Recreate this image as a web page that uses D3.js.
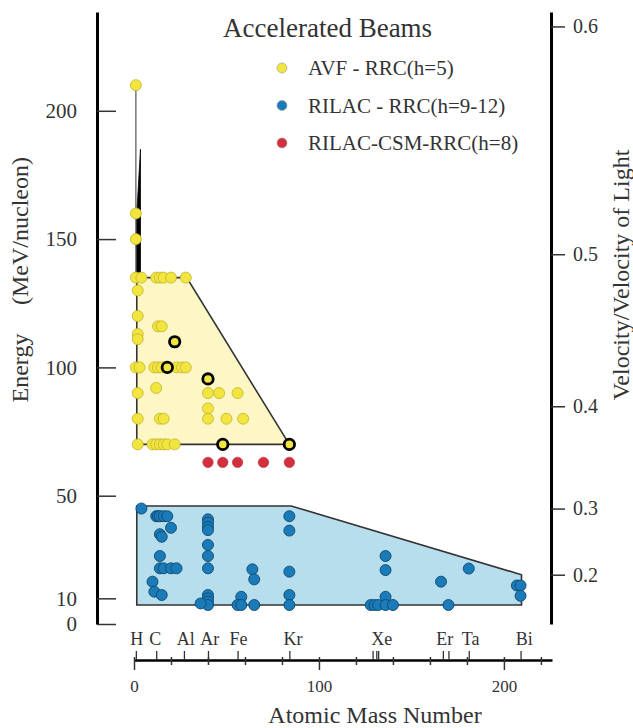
<!DOCTYPE html>
<html>
<head>
<meta charset="utf-8">
<script src="https://cdn.jsdelivr.net/npm/d3@7"></script>
<style>
  body { margin: 0; background: #fff; }
  svg { display: block; font-family: "Liberation Serif", "Times New Roman", serif; }
  .axis text { fill: #333; }
</style>
</head>
<body>
<div id="chart"></div>
<script>
// --- data (mass number A, energy MeV/nucleon) ---
const avfPoints = [
  [1, 210], [1, 160], [1, 150],
  [1, 135], [4, 135], [12, 135], [14, 135], [16, 135], [20, 135], [28, 135],
  [2, 130], [2, 120], [13, 116], [15, 116], [2, 113], [2, 111],
  [1, 100], [3, 100], [11, 100], [13, 100], [15, 100], [23, 100], [26, 100], [28, 100],
  [12, 92], [2, 90], [40, 90], [46, 90], [56, 90], [40, 84],
  [2, 80], [14, 80], [16, 80], [40, 80], [50, 80], [59, 80],
  [2, 70], [10, 70], [12, 70], [14, 70], [16, 70], [18, 70], [22, 70]
];
const avfHighlighted = [[22, 110], [18, 100], [40, 95.5], [48, 70], [84, 70]];
const rilacPoints = [
  [4, 45], [12, 42], [13, 42], [14, 42], [16, 42], [18, 42], [20, 37.5],
  [14, 35], [15, 34], [14, 26.5], [14, 21.7], [16, 21.7], [20, 21.7], [23, 21.7],
  [10, 16.5], [11, 12.6], [15, 11.3],
  [40, 40.8], [40, 39.5], [40, 37.9], [40, 36.6], [40, 30.8], [40, 26.5], [40, 21.7],
  [40, 11.3], [40, 10], [40, 8.7], [40, 7.4], [36, 8],
  [58, 10.6], [56, 7.4], [58, 7.4], [65, 7.4], [64, 21.3], [65, 17.4],
  [84, 42], [84, 36.4], [84, 20.4], [84, 11.3], [84, 7.4],
  [136, 26.5], [136, 21], [136, 10.6], [128, 7.4], [130, 7.4], [132, 7.4], [136, 7.4], [140, 7.4],
  [166, 16.5], [170, 7.4], [181, 21.6], [207, 15], [209, 15], [209, 11]
];
const csmPoints = [[40, 63], [48, 63], [56, 63], [70, 63], [84, 63]];

const avfRegion = [[1.5, 135], [28.5, 135], [84, 70], [1.5, 70]];
const rilacRegion = [[1.5, 46], [85, 46], [209.5, 19.2], [209.5, 7.4], [1.5, 7.4]];
const avfSpikeLine = [[1, 210], [1, 135]];
const avfSpike = [[1.5, 160], [3.5, 185], [3.5, 135], [1.5, 135]];

const energyTicks = [0, 10, 50, 100, 150, 200];
const betaTicks = [0.2, 0.3, 0.4, 0.5, 0.6];
const massMajorTicks = [0, 100, 200];
const massMinorTicks = [20, 40, 60, 80, 120, 140, 160, 180, 220];
const elementMass = [1, 12, 27, 40, 56, 84, 129, 131, 132, 167, 170, 181, 209];
const elementNames = ["H", "C", "Al", "Ar", "Fe", "Kr", "Xe", "Er", "Ta", "Bi"];
const elementLabelMass = [1.5, 11.5, 28, 41, 56.5, 86, 134, 168, 182, 211];

const legendNames = ["AVF - RRC(h=5)", "RILAC - RRC(h=9-12)", "RILAC-CSM-RRC(h=8)"];
const legendColors = ["#f2e540", "#1b7bb8", "#d22f3f"];

// kinetic energy per nucleon for a given beta
const AMU = 931.494;
const betaToEnergy = b => AMU * (1 / Math.sqrt(1 - b * b) - 1);

const width = 633, height = 728;
const svg = d3.select("#chart").append("svg")
  .attr("width", width).attr("height", height);

const x = d3.scaleLinear().domain([0, 226]).range([134, 552]);
const y = d3.scaleLinear().domain([0, 238.5]).range([624, 12]);

const line = d3.line().x(d => x(d[0])).y(d => y(d[1]));

// regions
svg.append("path").datum(rilacRegion)
  .attr("d", d => line(d) + "Z")
  .attr("fill", "#b7deec").attr("stroke", "#333").attr("stroke-width", 1.6);
svg.append("path").datum(avfRegion)
  .attr("d", d => line(d) + "Z")
  .attr("fill", "#fcf7c4").attr("stroke", "#333").attr("stroke-width", 1.6);
svg.append("path").datum(avfSpikeLine)
  .attr("d", line).attr("stroke", "#777").attr("stroke-width", 1.5).attr("fill", "none");
svg.append("path").datum(avfSpike)
  .attr("d", d => line(d) + "Z")
  .attr("fill", "#000").attr("stroke", "#000").attr("stroke-width", 0.8);

// points
function dots(data, fill, stroke, r, sw, cls) {
  svg.append("g").attr("class", cls).selectAll("circle")
    .data(data).join("circle")
    .attr("cx", d => x(d[0])).attr("cy", d => y(d[1]))
    .attr("r", r).attr("fill", fill).attr("stroke", stroke).attr("stroke-width", sw);
}
dots(avfPoints, "#f2e540", "#c2b22a", 5.5, 0.8, "avf");
dots(rilacPoints, "#1b7bb8", "#0c4a72", 5.5, 0.9, "rilac");
dots(csmPoints, "#d22f3f", "#b82636", 5.2, 0.6, "csm");
dots(avfHighlighted, "#f2e540", "#000", 5.2, 2.8, "avf-hl");

// left axis
const yLeft = svg.append("g").attr("class", "axis")
  .attr("transform", "translate(97,0)")
  .call(d3.axisLeft(y).tickValues(energyTicks).tickSizeInner(-19).tickSizeOuter(0).tickPadding(20));
yLeft.select(".domain").attr("stroke", "#000").attr("stroke-width", 3);
yLeft.selectAll(".tick line").attr("stroke", "#333").attr("stroke-width", 1.5);
yLeft.selectAll("text").attr("font-size", 21).attr("font-family", "Liberation Serif");

// right axis (velocity)
const yRight = svg.append("g").attr("class", "axis")
  .attr("transform", "translate(551,0)")
  .call(d3.axisRight(y).tickValues(betaTicks.map(betaToEnergy))
    .tickFormat((d, i) => d3.format(".1f")(betaTicks[i]))
    .tickSizeInner(14).tickSizeOuter(0).tickPadding(8));
yRight.select(".domain").attr("stroke", "#000").attr("stroke-width", 3);
yRight.selectAll(".tick line").attr("stroke", "#333").attr("stroke-width", 1.5);
yRight.selectAll("text").attr("font-size", 20).attr("font-family", "Liberation Serif");

// bottom axis
const axisY = 660;
const xMajor = svg.append("g").attr("class", "axis")
  .attr("transform", `translate(0,${axisY})`)
  .call(d3.axisBottom(x).tickValues(massMajorTicks).tickSizeInner(10).tickSizeOuter(0).tickPadding(10));
xMajor.select(".domain").attr("stroke", "#000").attr("stroke-width", 2.5);
xMajor.selectAll(".tick line").attr("y1", -3).attr("stroke", "#333").attr("stroke-width", 1.5);
xMajor.selectAll("text").attr("font-size", 17).attr("font-family", "Liberation Serif");

const xMinor = svg.append("g")
  .attr("transform", `translate(0,${axisY})`)
  .call(d3.axisBottom(x).tickValues(massMinorTicks).tickSizeInner(5).tickSizeOuter(0).tickFormat(""));
xMinor.select(".domain").remove();
xMinor.selectAll(".tick line").attr("y1", -3).attr("stroke", "#333").attr("stroke-width", 1.5);

const xElem = svg.append("g")
  .attr("transform", `translate(0,${axisY})`)
  .call(d3.axisTop(x).tickValues(elementMass).tickSizeInner(9).tickSizeOuter(0).tickFormat(""));
xElem.select(".domain").remove();
xElem.selectAll(".tick line").attr("stroke", "#333").attr("stroke-width", 1.3);

svg.append("g").selectAll("text")
  .data(elementNames).join("text")
  .attr("x", (d, i) => x(elementLabelMass[i])).attr("y", 645)
  .attr("text-anchor", "middle").attr("font-size", 18).attr("fill", "#333")
  .text(d => d);

// axis titles
svg.append("text")
  .attr("x", 375).attr("y", 723).attr("text-anchor", "middle")
  .attr("font-size", 24).attr("fill", "#333")
  .text("Atomic Mass Number");

svg.append("text")
  .attr("transform", "translate(28,368) rotate(-90)").attr("text-anchor", "middle")
  .attr("font-size", 24).attr("fill", "#333")
  .text("Energy");
svg.append("text")
  .attr("transform", "translate(28,231) rotate(-90)").attr("text-anchor", "middle")
  .attr("font-size", 24).attr("fill", "#333")
  .text("(MeV/nucleon)");

svg.append("text")
  .attr("transform", "translate(629,275) rotate(-90)").attr("text-anchor", "middle")
  .attr("font-size", 24).attr("fill", "#333")
  .text("Velocity/Velocity of Light");

// legend
svg.append("text")
  .attr("x", 223).attr("y", 37)
  .attr("font-size", 27).attr("fill", "#333")
  .text("Accelerated Beams");

const legend = svg.append("g").selectAll("g")
  .data(legendNames).join("g")
  .attr("transform", (d, i) => `translate(282,${68 + i * 37.5})`);
legend.append("circle")
  .attr("r", 5).attr("fill", (d, i) => legendColors[i])
  .attr("stroke", "#999").attr("stroke-width", 0.6);
legend.append("text")
  .attr("x", 26).attr("y", 7)
  .attr("font-size", 21).attr("fill", "#333")
  .text(d => d);
</script>
</body>
</html>
